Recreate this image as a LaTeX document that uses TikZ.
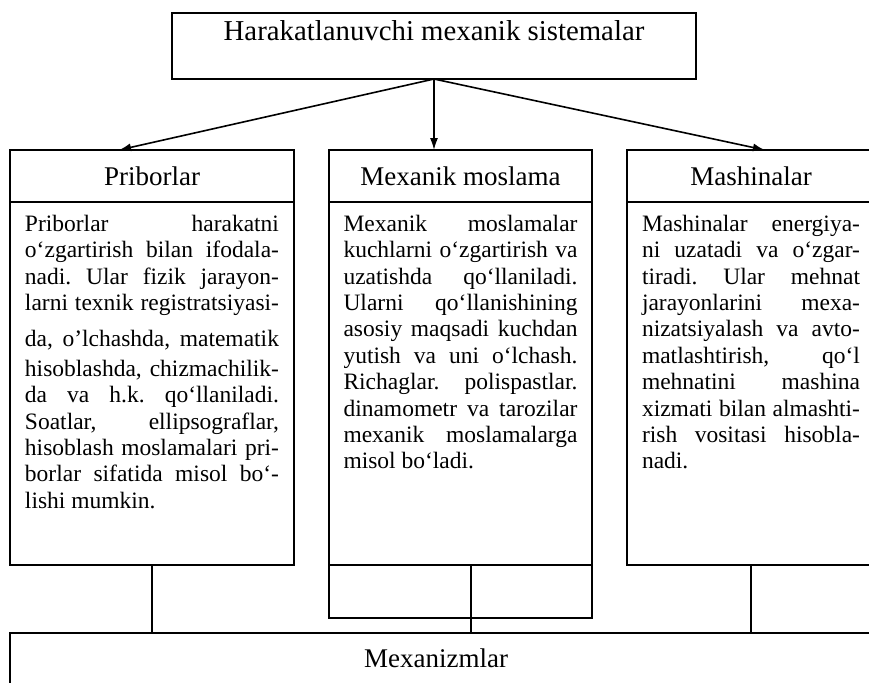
\documentclass[tikz,border=0pt]{standalone}
\usepackage{fontspec}
\setmainfont{Liberation Serif}
\usetikzlibrary{arrows.meta,calc,positioning}
\newcommand{\titlefont}{\fontsize{14.4}{16}\selectfont}
\newcommand{\hdrfont}{\fontsize{13.5}{15}\selectfont}
\newcommand{\bodyfont}{\fontsize{11.75}{13.2}\selectfont}
\frenchspacing
\hyphenpenalty=10000
\tolerance=10000

\begin{document}
\begin{tikzpicture}[x=0.5pt,y=-0.5pt,
    box/.style={draw,line width=0.9pt,outer sep=0pt},
    titlebox/.style={box,font=\titlefont,minimum width=262pt,inner ysep=0pt,text height=13.5pt,text depth=19.5pt},
    hdr/.style={box,font=\hdrfont,minimum height=26pt,inner sep=0pt,anchor=north west},
    bodybox/.style={box,font=\bodyfont,inner ysep=6.5pt,anchor=north},
    conn/.style={line width=0.9pt},
    arr/.style={line width=0.8pt,-{Latex[length=6pt,width=4pt]}}]
  \useasboundingbox (0,0) rectangle (869,682);
  \clip (0,0) rectangle (869,682);

  % top
  \node[titlebox,anchor=north] (top) at (434,13) {Harakatlanuvchi mexanik sistemalar};

  % three columns
  \node[hdr,minimum width=142pt] (pri) at (10,150) {Priborlar};
  \node[bodybox,inner xsep=7.5pt] (pribody) at (pri.south) {\parbox[t][168.5pt][t]{127pt}{%
    Priborlar harakatni\break
    o‘zgartirish bilan ifodala-\break
    nadi. Ular fizik jarayon-\break
    larni texnik registratsiyasi-\vadjust{\vskip 5pt}\break
    da, o’lchashda, matematik\vadjust{\vskip 1.5pt}\break
    hisoblashda, chizmachilik-\break
    da va h.k. qo‘llaniladi.\break
    Soatlar, ellipsograflar,\break
    hisoblash moslamalari pri-\break
    borlar sifatida misol bo‘-\break
    lishi mumkin.}};

  \node[hdr,minimum width=131.5pt] (mos) at (329,150) {Mexanik moslama};
  \node[bodybox,inner xsep=7.25pt] (mosbody) at (mos.south) {\parbox[t][168.5pt][t]{117pt}{%
    Mexanik moslamalar\break
    kuchlarni o‘zgartirish va\break
    uzatishda qo‘llaniladi.\break
    Ularni qo‘llanishining\break
    asosiy maqsadi kuchdan\break
    yutish va uni o‘lchash.\break
    Richaglar. polispastlar.\break
    dinamometr va tarozilar\break
    mexanik moslamalarga\break
    misol bo‘ladi.}};
  \node[box,minimum width=131.5pt,minimum height=26.5pt,inner sep=0pt,anchor=north] (mosfoot) at (mosbody.south) {};

  \node[hdr,minimum width=124pt] (mash) at (627,150) {Mashinalar};
  \node[bodybox,inner xsep=7.5pt] (mashbody) at (mash.south) {\parbox[t][168.5pt][t]{109pt}{%
    Mashinalar energiya-\break
    ni uzatadi va o‘zgar-\break
    tiradi. Ular mehnat\break
    jarayonlarini mexa-\break
    nizatsiyalash va avto-\break
    matlashtirish, qo‘l\break
    mehnatini mashina\break
    xizmati bilan almashti-\break
    rish vositasi hisobla-\break
    nadi.}};

  % bottom
  \node[box,minimum width=460pt,minimum height=50pt,anchor=north west] (mex) at (10,633) {};
  \node[font=\hdrfont,anchor=base] (mextxt) at (436,667) {Mexanizmlar};

  % arrows
  \draw[arr] (top.south) -- ($(pri.north west)!0.384!(pri.north east)$);
  \draw[arr] (top.south) -- (top.south |- mos.north);
  \draw[arr] (top.south) -- ($(mash.north west)!0.556!(mash.north east)$);

  % links down
  \coordinate (mosdiv) at ($(mosfoot.north west)!0.54!(mosfoot.north east)$);
  \draw[conn] (pribody.south) -- (pribody.south |- mex.north);
  \draw[conn] (mosdiv) -- (mosdiv |- mex.north);
  \draw[conn] (mashbody.south) -- (mashbody.south |- mex.north);
\end{tikzpicture}
\end{document}
